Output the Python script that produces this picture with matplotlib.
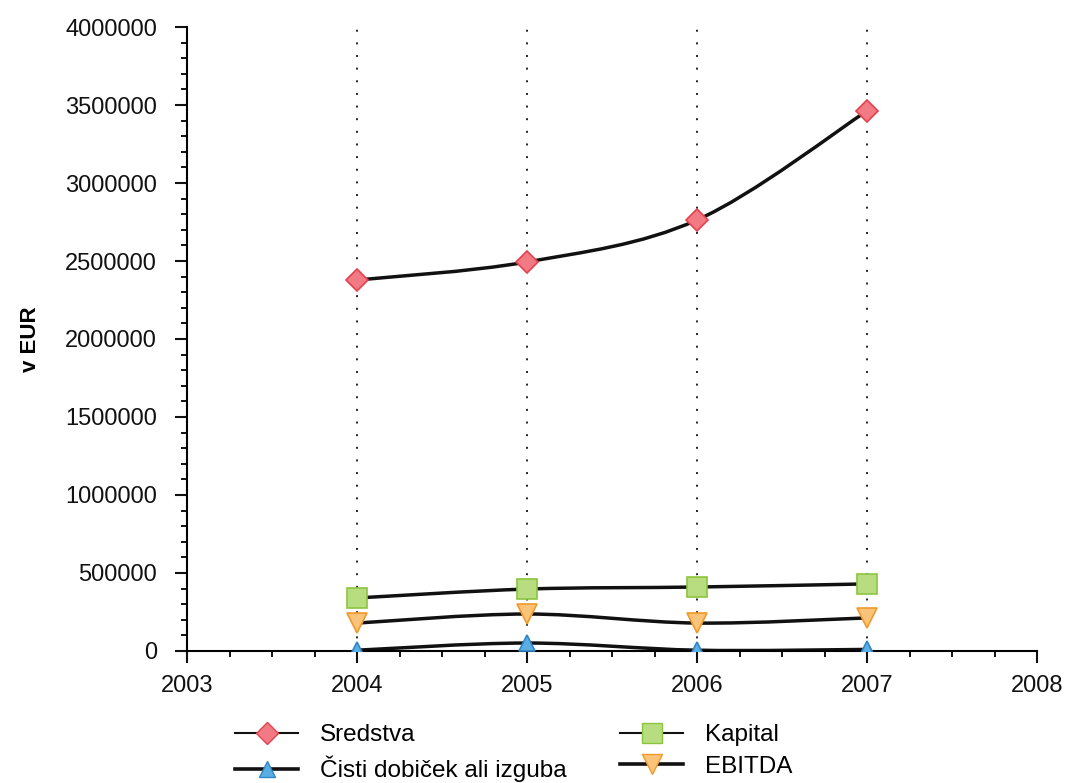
import numpy as np
import matplotlib.pyplot as plt
from matplotlib.path import Path
from matplotlib.patches import PathPatch
from matplotlib.lines import Line2D
from matplotlib.ticker import MultipleLocator

# Data
years = [2004, 2005, 2006, 2007]
sredstva = [2378000, 2494000, 2763000, 3462000]
kapital = [340000, 397000, 410000, 430000]
dobicek = [5000, 51000, 5000, 10000]
ebitda = [179000, 237000, 179000, 212000]

labels = ['Sredstva', 'Kapital', 'Čisti dobiček ali izguba', 'EBITDA']
xticks = [2003, 2004, 2005, 2006, 2007, 2008]

plt.rcParams['font.family'] = ['Liberation Sans', 'DejaVu Sans']

# marker styles (face, edge, marker, size)
styles = {
    'Sredstva': ('#f27a84', '#e3414e', 'D', 11),
    'Kapital': ('#b8dc80', '#8cc43e', 's', 15),
    'Čisti dobiček ali izguba': ('#5aaee2', '#2f86c8', '^', 12),
    'EBITDA': ('#f9c47a', '#f09a2a', 'v', 14),
}


def smooth_path(xs, ys, t=0.5):
    # Catmull-Rom style bezier through the data points
    xs = np.asarray(xs, float)
    ys = np.asarray(ys, float)
    verts = [(xs[0], ys[0])]
    codes = [Path.MOVETO]
    n = len(xs)
    for i in range(n - 1):
        p0 = np.array([xs[max(i - 1, 0)], ys[max(i - 1, 0)]])
        p1 = np.array([xs[i], ys[i]])
        p2 = np.array([xs[i + 1], ys[i + 1]])
        p3 = np.array([xs[min(i + 2, n - 1)], ys[min(i + 2, n - 1)]])
        c1 = p1 + (p2 - p0) * t / 3
        c2 = p2 - (p3 - p1) * t / 3
        verts += [tuple(c1), tuple(c2), tuple(p2)]
        codes += [Path.CURVE4] * 3
    return Path(verts, codes)


fig = plt.figure(figsize=(10.66, 7.83), dpi=100)
ax = fig.add_axes([0.1755, 0.1686, 0.7973, 0.7969])

for yr in years:
    ax.axvline(yr, color='#222222', linestyle=(0, (1, 5.5)), linewidth=1.4, zorder=1)

series = [sredstva, kapital, dobicek, ebitda]
for name, vals in zip(labels, series):
    ax.add_patch(PathPatch(smooth_path(years, vals), facecolor='none',
                           edgecolor='#111111', linewidth=2.5, zorder=2))
    fc, ec, m, ms = styles[name]
    ax.plot(years, vals, linestyle='none', marker=m, markersize=ms,
            markerfacecolor=fc, markeredgecolor=ec, markeredgewidth=1.2,
            zorder=3)

ax.set_xlim(2003, 2008)
ax.set_ylim(0, 4000000)
ax.set_xticks(xticks)
ax.xaxis.set_minor_locator(MultipleLocator(0.25))
ax.yaxis.set_major_locator(MultipleLocator(500000))
ax.yaxis.set_minor_locator(MultipleLocator(100000))
ax.spines['top'].set_visible(False)
ax.spines['right'].set_visible(False)
for s in ['left', 'bottom']:
    ax.spines[s].set_linewidth(1.5)
ax.tick_params(which='major', direction='out', length=8.5, width=1.5,
               labelsize=17, colors='#111111')
ax.tick_params(which='minor', direction='out', length=4.5, width=1.3)
ax.tick_params(axis='y', which='major', pad=13)
ax.tick_params(axis='x', which='major', pad=9)
ax.ticklabel_format(axis='y', style='plain', useOffset=False)
ax.set_ylabel('v EUR', fontsize=16, fontweight='bold')
ax.yaxis.set_label_coords(-0.172, 0.5)

handles = []
for name in labels:
    fc, ec, m, ms = styles[name]
    lw = 1.5 if name in ('Sredstva', 'Kapital') else 2.6
    handles.append(Line2D([], [], color='#111111', linewidth=lw, marker=m,
                          markersize=ms, markerfacecolor=fc,
                          markeredgecolor=ec))
order = [0, 2, 1, 3]
fig.legend([handles[i] for i in order], [labels[i] for i in order],
           loc='upper left', bbox_to_anchor=(235 / 1066, 1 - 724 / 783),
           ncol=2, frameon=False, fontsize=17.5, borderpad=0,
           borderaxespad=0, handlelength=2.6, labelspacing=0.4,
           columnspacing=2.2, handletextpad=0.9)

plt.savefig('out.png', dpi=100)
plt.close()
